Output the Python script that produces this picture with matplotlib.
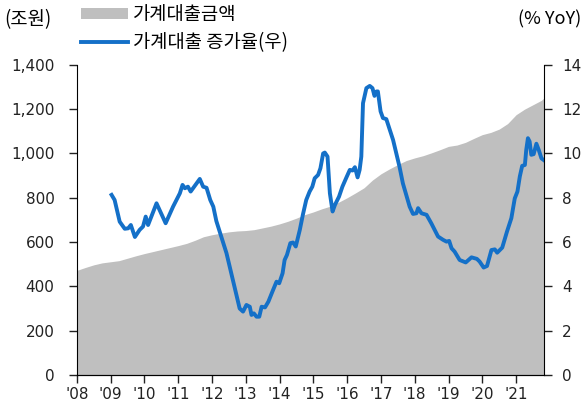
import matplotlib
matplotlib.use('Agg')
import matplotlib.pyplot as plt
from matplotlib.patches import Patch
from matplotlib.lines import Line2D

plt.rcParams['font.family'] = ['Noto Sans CJK KR', 'DejaVu Sans']

# 가계대출금액 (조원), 분기별 값 (연도 소수 표기)
amount_t = [2008.0, 2008.25, 2008.5, 2008.75, 2009.0, 2009.25, 2009.5, 2009.75,
            2010.0, 2010.25, 2010.5, 2010.75, 2011.0, 2011.25, 2011.5, 2011.75,
            2012.0, 2012.25, 2012.5, 2012.75, 2013.0, 2013.25, 2013.5, 2013.75,
            2014.0, 2014.25, 2014.5, 2014.75, 2015.0, 2015.25, 2015.5, 2015.75,
            2016.0, 2016.25, 2016.5, 2016.75, 2017.0, 2017.25, 2017.5, 2017.75,
            2018.0, 2018.25, 2018.5, 2018.75, 2019.0, 2019.25, 2019.5, 2019.75,
            2020.0, 2020.25, 2020.5, 2020.75, 2021.0, 2021.25, 2021.5, 2021.75, 2021.82]
amount = [472, 485, 497, 506, 511, 516, 527, 538,
          548, 557, 566, 575, 584, 594, 608, 624,
          633, 640, 646, 650, 652, 656, 664, 672,
          682, 694, 708, 724, 736, 750, 762, 780,
          800, 822, 845, 880, 908, 930, 950, 968,
          980, 990, 1003, 1017, 1032, 1038, 1050, 1068,
          1085, 1095, 1110, 1135, 1175, 1200, 1220, 1240, 1250]

# 가계대출 증가율 (% YoY)
growth_t = [2009.03, 2009.12, 2009.27, 2009.42, 2009.52, 2009.60, 2009.72, 2009.86, 2009.96,
            2010.04, 2010.11, 2010.36, 2010.63, 2010.85, 2011.05, 2011.13, 2011.20, 2011.29,
            2011.37, 2011.64, 2011.74, 2011.84, 2011.95, 2012.04, 2012.13, 2012.43, 2012.82,
            2012.92, 2013.02, 2013.12, 2013.17, 2013.24, 2013.32, 2013.40, 2013.47, 2013.57,
            2013.67, 2013.77, 2013.81, 2013.91, 2013.99, 2014.09, 2014.15, 2014.22, 2014.32,
            2014.40, 2014.48, 2014.60, 2014.69, 2014.79, 2014.89, 2014.97, 2015.04, 2015.14,
            2015.21, 2015.29, 2015.34, 2015.42, 2015.49, 2015.57, 2015.64, 2015.76, 2015.86,
            2015.98, 2016.08, 2016.16, 2016.23, 2016.31, 2016.37, 2016.42, 2016.47, 2016.57,
            2016.67, 2016.75, 2016.81, 2016.87, 2016.91, 2016.99, 2017.06, 2017.16, 2017.36,
            2017.55, 2017.65, 2017.85, 2017.95, 2018.05, 2018.10, 2018.20, 2018.35, 2018.49,
            2018.69, 2018.84, 2018.94, 2019.02, 2019.09, 2019.18, 2019.33, 2019.51, 2019.68,
            2019.84, 2019.92, 2020.04, 2020.14, 2020.27, 2020.37, 2020.44, 2020.59, 2020.73,
            2020.86, 2020.96, 2021.04, 2021.11, 2021.18, 2021.26, 2021.30, 2021.35, 2021.40,
            2021.45, 2021.52, 2021.60, 2021.67, 2021.75, 2021.82]
growth = [8.13, 7.9, 6.92, 6.6, 6.62, 6.77, 6.23, 6.55, 6.7,
          7.15, 6.77, 7.75, 6.85, 7.6, 8.2, 8.58, 8.43, 8.5,
          8.28, 8.85, 8.5, 8.45, 7.9, 7.6, 6.95, 5.5, 3.0,
          2.86, 3.16, 3.08, 2.71, 2.78, 2.63, 2.63, 3.08, 3.05,
          3.31, 3.69, 3.84, 4.21, 4.14, 4.59, 5.19, 5.42, 5.95,
          5.98, 5.8, 6.55, 7.23, 7.9, 8.28, 8.5, 8.88, 9.03,
          9.33, 10.0, 10.04, 9.86, 8.2, 7.38, 7.68, 8.05, 8.5,
          8.92, 9.26, 9.23, 9.38, 8.92, 9.26, 9.86, 12.27, 12.95,
          13.05, 12.95, 12.6, 12.8, 12.8, 11.9, 11.6, 11.55, 10.61,
          9.4, 8.65, 7.6, 7.27, 7.3, 7.53, 7.3, 7.23, 6.85,
          6.25, 6.1, 6.02, 6.05, 5.72, 5.57, 5.19, 5.08, 5.31,
          5.24, 5.12, 4.85, 4.92, 5.64, 5.67, 5.52, 5.75, 6.47,
          7.08, 7.97, 8.28, 8.96, 9.44, 9.48, 10.16, 10.69, 10.54,
          9.94, 9.97, 10.44, 10.16, 9.78, 9.7]

years = list(range(2008, 2022))
year_labels = ["'%02d" % (y % 100) for y in years]

fig = plt.figure(figsize=(5.86, 4.08), dpi=100)
ax = fig.add_axes([0.131, 0.081, 0.797, 0.760])
ax2 = ax.twinx()

ax.fill_between(amount_t, amount, 0, color='#bfbfbf', linewidth=0)
ax2.plot(growth_t, growth, color='#1470c8', linewidth=2.8, solid_joinstyle='round')

ax.set_xlim(2008, 2021.82)
ax.set_ylim(0, 1400)
ax2.set_ylim(0, 14)
ax.set_yticks(range(0, 1401, 200))
ax.set_yticklabels(['{:,}'.format(v) for v in range(0, 1401, 200)])
ax2.set_yticks(range(0, 15, 2))
ax.set_xticks(years)
ax.set_xticklabels(year_labels)

tick_font = ['DejaVu Sans']
for a in (ax, ax2):
    a.spines['top'].set_visible(False)
    a.tick_params(direction='out', length=6, width=1, labelsize=11, colors='#222222')
    for lab in a.get_xticklabels() + a.get_yticklabels():
        lab.set_family(tick_font)
ax.spines['right'].set_visible(False)
ax2.spines['left'].set_visible(False)
ax.tick_params(axis='x', pad=3)
ax.tick_params(axis='y', pad=10)
ax2.tick_params(axis='y', pad=7)
ax2.patch.set_visible(False)

fig.text(0.008, 0.952, '(조원)', fontsize=13.5, va='center', ha='left')
fig.text(0.992, 0.952, '(% YoY)', fontsize=13, va='center', ha='right')

handles = [Patch(facecolor='#bfbfbf', edgecolor='none'),
           Line2D([0], [0], color='#1470c8', linewidth=2.8)]
fig.legend(handles, ['가계대출금액', '가계대출 증가율(우)'], loc='upper left',
           bbox_to_anchor=(0.138, 0.99), frameon=False, fontsize=13.5,
           handlelength=2.5, handleheight=0.5, handletextpad=0.27, labelspacing=0.36,
           borderaxespad=0, borderpad=0)

fig.savefig('out.png', dpi=100)
